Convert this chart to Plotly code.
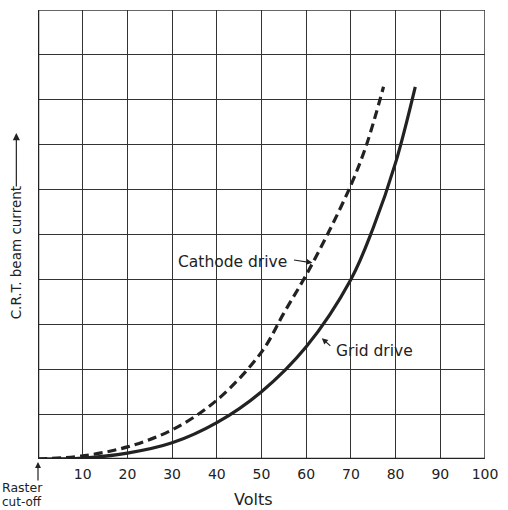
import plotly.graph_objects as go

# Data (volts vs. beam current in grid units)
grid_volts = [0, 10, 20, 30, 40, 50, 60, 70, 75, 80, 84.4]
grid_current = [0, 0.02, 0.13, 0.36, 0.81, 1.5, 2.5, 4.0, 5.15, 6.6, 8.29]

cathode_volts = [0, 10, 20, 30, 40, 50, 55, 60, 65, 70, 73.5, 77.3]
cathode_current = [0, 0.07, 0.27, 0.65, 1.31, 2.38, 3.25, 4.1, 5.05, 6.1, 7.0, 8.29]

x_ticks = [10, 20, 30, 40, 50, 60, 70, 80, 90, 100]
x_tick_labels = [str(v) for v in x_ticks]

FONT = "DejaVu Sans"
INK = "#222222"
GRID = "#333333"

# plot area in page pixels: left 38, right 492, top 10, bottom 459
def px(xp):
    return (xp - 38) / 454

def py(yp):
    return (459 - yp) / 449

fig = go.Figure()
fig.add_trace(go.Scatter(x=cathode_volts, y=cathode_current, mode="lines",
                         line=dict(color=INK, width=3.2, dash="9px,5px", shape="spline", smoothing=1.0),
                         hoverinfo="skip", showlegend=False, cliponaxis=False))
fig.add_trace(go.Scatter(x=grid_volts, y=grid_current, mode="lines",
                         line=dict(color=INK, width=3.2, shape="spline", smoothing=1.0),
                         hoverinfo="skip", showlegend=False, cliponaxis=False))

fig.update_layout(
    width=508, height=510,
    margin=dict(l=38, r=16, t=10, b=51),
    paper_bgcolor="white", plot_bgcolor="white",
    font=dict(family=FONT, size=14, color=INK),
    xaxis=dict(range=[0, 100], tickvals=x_ticks, ticktext=x_tick_labels,
               showgrid=True, gridcolor=GRID, gridwidth=1,
               zeroline=False, showline=False, ticks="", ticklabelstandoff=5,
               tickfont=dict(family=FONT, size=14, color=INK), fixedrange=True),
    yaxis=dict(range=[0, 10], dtick=1, showticklabels=False,
               showgrid=True, gridcolor=GRID, gridwidth=1,
               zeroline=False, showline=False, ticks="", fixedrange=True),
    shapes=[
        dict(type="line", xref="x", yref="y", x0=0, x1=100, y0=0, y1=0, line=dict(color=INK, width=2.5)),
        dict(type="line", xref="x", yref="y", x0=0, x1=0, y0=0, y1=10, line=dict(color=INK, width=2.5)),
        dict(type="line", xref="x", yref="y", x0=0, x1=100, y0=10, y1=10, line=dict(color=GRID, width=1.5)),
        dict(type="line", xref="x", yref="y", x0=100, x1=100, y0=0, y1=10, line=dict(color=GRID, width=1.5)),
    ],
    annotations=[
        dict(text="Cathode drive", x=43.6, y=4.39, xref="x", yref="y", showarrow=False,
             font=dict(size=15.5, family=FONT, color=INK)),
        dict(text="", x=61.4, y=4.37, xref="x", yref="y", showarrow=True, ax=-20, ay=-3,
             arrowhead=2, arrowsize=1, arrowwidth=1.2, arrowcolor=INK),
        dict(text="Grid drive", x=75.3, y=2.41, xref="x", yref="y", showarrow=False,
             font=dict(size=15.5, family=FONT, color=INK)),
        dict(text="", x=63.5, y=2.69, xref="x", yref="y", showarrow=True, ax=10, ay=9,
             arrowhead=2, arrowsize=1, arrowwidth=1.2, arrowcolor=INK),
        # raster cut-off arrow and label
        dict(text="", x=px(38), y=py(462), xref="paper", yref="paper", showarrow=True, ax=0, ay=20,
             arrowhead=2, arrowsize=1, arrowwidth=1.2, arrowcolor=INK),
        dict(text="Raster", x=px(22), y=py(487.5), xref="paper", yref="paper",
             xanchor="center", yanchor="middle", showarrow=False,
             font=dict(size=12.5, family=FONT, color=INK)),
        dict(text="cut-off", x=px(22), y=py(502), xref="paper", yref="paper",
             xanchor="center", yanchor="middle", showarrow=False,
             font=dict(size=12, family=FONT, color=INK)),
        dict(text="Volts", x=px(257), y=py(500), xref="paper", yref="paper", showarrow=False,
             xanchor="center", yanchor="middle", font=dict(size=16, family=FONT, color=INK)),
        # y-axis title with its arrow
        dict(text="C.R.T. beam current", x=px(16), y=py(253), xref="paper", yref="paper",
             xanchor="center", yanchor="middle",
             showarrow=False, textangle=-90, font=dict(size=13.5, family=FONT, color=INK)),
        dict(text="", x=px(16), y=py(133), xref="paper", yref="paper",
             showarrow=True, ax=0, ay=55, arrowhead=2, arrowsize=1.2, arrowwidth=1.2, arrowcolor=INK),
    ],
)

fig.write_html("out.html", config={"displayModeBar": False},
               post_script="document.body.style.margin='0';document.body.style.overflow='hidden';")
